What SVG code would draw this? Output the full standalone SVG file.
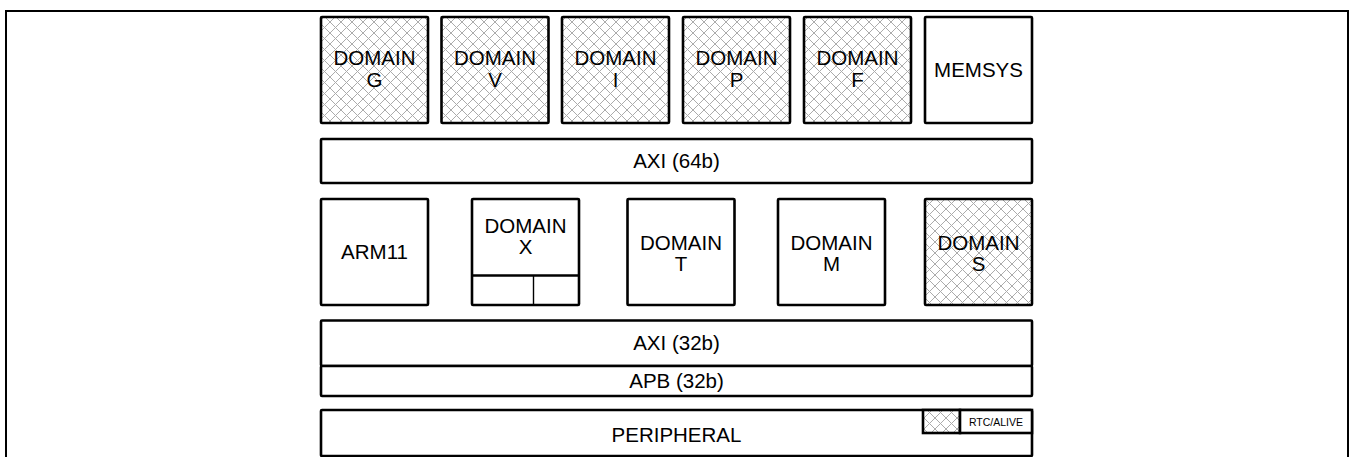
<svg xmlns="http://www.w3.org/2000/svg" width="1353" height="457" viewBox="0 0 1353 457">
  <defs>
    <!-- diamond cross-hatch used for the shaded blocks -->
    <pattern id="hatch" patternUnits="userSpaceOnUse" width="11" height="11">
      <rect width="11" height="11" fill="#ffffff"/>
      <path d="M0,0 L11,11 M11,0 L0,11" stroke="#ababab" stroke-width="1" fill="none"/>
    </pattern>
  </defs>
  <style>
    .blk { fill: #ffffff; stroke: #000000; stroke-width: 2.6; }
    .hat { fill: url(#hatch); stroke: #000000; stroke-width: 2.6; }
    .lbl { font-family: "Liberation Sans", Arial, sans-serif; font-size: 20.5px; fill: #000000; text-anchor: middle; }
    .sm { font-family: "Liberation Sans", Arial, sans-serif; font-size: 10.5px; fill: #000000; text-anchor: middle; }
    .frame { fill: none; stroke: #000000; stroke-width: 2; }
  </style>

  <rect width="1353" height="457" fill="#ffffff"/>

  <!-- outer frame, open at the bottom -->
  <polyline class="frame" points="6,457 6,11 1348,11 1348,457"/>

  <!-- top row -->
  <g id="domain-g">
    <rect class="hat" x="321" y="17" width="107" height="106" rx="1"/>
    <text class="lbl" x="374.5" y="65">DOMAIN</text>
    <text class="lbl" x="374.5" y="87">G</text>
  </g>
  <g id="domain-v">
    <rect class="hat" x="441.5" y="17" width="107" height="106" rx="1"/>
    <text class="lbl" x="495" y="65">DOMAIN</text>
    <text class="lbl" x="495" y="87">V</text>
  </g>
  <g id="domain-i">
    <rect class="hat" x="562" y="17" width="107" height="106" rx="1"/>
    <text class="lbl" x="615.5" y="65">DOMAIN</text>
    <text class="lbl" x="615.5" y="87">I</text>
  </g>
  <g id="domain-p">
    <rect class="hat" x="683" y="17" width="107" height="106" rx="1"/>
    <text class="lbl" x="736.5" y="65">DOMAIN</text>
    <text class="lbl" x="736.5" y="87">P</text>
  </g>
  <g id="domain-f">
    <rect class="hat" x="804" y="17" width="107" height="106" rx="1"/>
    <text class="lbl" x="857.5" y="65">DOMAIN</text>
    <text class="lbl" x="857.5" y="87">F</text>
  </g>
  <g id="memsys">
    <rect class="blk" x="925" y="17" width="107" height="106" rx="1"/>
    <text class="lbl" x="978.5" y="77">MEMSYS</text>
  </g>

  <!-- 64-bit bus -->
  <g id="axi64">
    <rect class="blk" x="321" y="139" width="711" height="44" rx="1"/>
    <text class="lbl" x="676.5" y="168">AXI (64b)</text>
  </g>

  <!-- middle row -->
  <g id="arm11">
    <rect class="blk" x="321" y="199" width="107" height="106" rx="1"/>
    <text class="lbl" x="374.5" y="259">ARM11</text>
  </g>
  <g id="domain-x">
    <rect class="blk" x="472" y="199" width="107" height="106" rx="1"/>
    <line x1="472" y1="275.5" x2="579" y2="275.5" stroke="#000" stroke-width="2.6"/>
    <line x1="533.5" y1="275.5" x2="533.5" y2="305" stroke="#000" stroke-width="1.4"/>
    <text class="lbl" x="525.5" y="233">DOMAIN</text>
    <text class="lbl" x="525.5" y="254">X</text>
  </g>
  <g id="domain-t">
    <rect class="blk" x="627.5" y="199" width="107" height="106" rx="1"/>
    <text class="lbl" x="681" y="250">DOMAIN</text>
    <text class="lbl" x="681" y="271">T</text>
  </g>
  <g id="domain-m">
    <rect class="blk" x="778" y="199" width="107" height="106" rx="1"/>
    <text class="lbl" x="831.5" y="250">DOMAIN</text>
    <text class="lbl" x="831.5" y="271">M</text>
  </g>
  <g id="domain-s">
    <rect class="hat" x="925" y="199" width="107" height="106" rx="1"/>
    <text class="lbl" x="978.5" y="250">DOMAIN</text>
    <text class="lbl" x="978.5" y="271">S</text>
  </g>

  <!-- 32-bit buses -->
  <g id="axi32">
    <rect class="blk" x="321" y="320.5" width="711" height="45.5" rx="1"/>
    <text class="lbl" x="676.5" y="350">AXI (32b)</text>
  </g>
  <g id="apb32">
    <rect class="blk" x="321" y="366" width="711" height="30" rx="1"/>
    <text class="lbl" x="676.5" y="388">APB (32b)</text>
  </g>

  <!-- peripheral block with always-on corner -->
  <g id="peripheral">
    <rect class="blk" x="321" y="410" width="711" height="46" rx="1"/>
    <text class="lbl" x="676.5" y="442">PERIPHERAL</text>
  </g>
  <g id="rtc-alive">
    <rect class="hat" x="923" y="410" width="37" height="23"/>
    <rect class="blk" x="960" y="410" width="72" height="23"/>
    <text class="sm" x="996" y="425.5">RTC/ALIVE</text>
  </g>

  <!-- no connectors: blocks abut their buses directly -->
  <g id="connectors"/>
</svg>
